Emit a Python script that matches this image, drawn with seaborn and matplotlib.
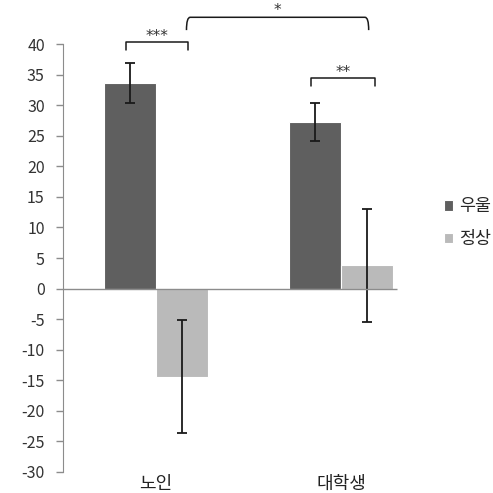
import matplotlib
matplotlib.use('Agg')
import matplotlib.pyplot as plt
from matplotlib.path import Path
from matplotlib.patches import PathPatch
import pandas as pd
import seaborn as sns

# data
groups = ['노인', '대학생']
series = ['우울', '정상']
depressed = [33.6, 27.3]
depressed_err = [3.25, 3.1]
normal = [-14.4, 3.8]
normal_err = [9.2, 9.2]
colors = ['#5f5f5f', '#bababa']
yticks = list(range(-30, 45, 5))

df = pd.DataFrame({
    'group': groups * 2,
    'kind': [series[0]] * 2 + [series[1]] * 2,
    'value': depressed + normal,
    'err': depressed_err + normal_err,
})

sns.set_style('white')
plt.rcParams['font.family'] = ['Noto Sans CJK KR', 'DejaVu Sans']
plt.rcParams['axes.unicode_minus'] = False

fig = plt.figure(figsize=(4.93, 4.93), dpi=100)
ax = fig.add_axes([0, 0, 1, 1])
sns.barplot(data=df, x='group', y='value', hue='kind', order=groups, hue_order=series,
            palette=colors, width=0.56, errorbar=None, edgecolor='white', linewidth=0.8, ax=ax)

# error bars centred on each bar
centers = {}
for patch, (_, row) in zip(ax.patches, df.iterrows()):
    cx = patch.get_x() + patch.get_width() / 2
    centers[(row['group'], row['kind'])] = cx
    ax.errorbar(cx, row['value'], yerr=row['err'], color='#1a1a1a', lw=1.3,
                capsize=3.5, capthick=1.3)

ax.set_xlim(-0.843, 1.822)
ax.set_ylim(-33.45, 47.23)
spine_x = -0.503
ax.hlines(0, spine_x, 1.303, color='#8c8c8c', lw=1)

for s in ['top', 'right']:
    ax.spines[s].set_visible(False)
ax.spines['bottom'].set_position(('data', -30))
ax.spines['bottom'].set_visible(False)
ax.spines['left'].set_position(('data', spine_x))
ax.spines['left'].set_bounds(-30, 40)
ax.spines['left'].set_color('#8c8c8c')
ax.set_yticks(yticks)
ax.tick_params(axis='y', left=True, length=5, width=1, color='#8c8c8c', pad=8,
               labelsize=11.5, labelcolor='#333333')
ax.tick_params(axis='x', length=0, pad=2, labelsize=13, labelcolor='#222222')
ax.set_xlabel('')
ax.set_ylabel('')


def bracket(x0, x1, y, drop, label, rounded=False):
    if rounded:
        r = 0.02
        verts = [(x0, y - drop), (x0, y), (x0 + r, y), (x1 - r, y), (x1, y), (x1, y - drop)]
        codes = [Path.MOVETO, Path.CURVE3, Path.CURVE3, Path.LINETO, Path.CURVE3, Path.CURVE3]
        ax.add_patch(PathPatch(Path(verts, codes), fill=False, color='#1a1a1a', lw=1.1))
    else:
        ax.plot([x0, x0, x1, x1], [y - drop, y, y, y - drop], color='#1a1a1a', lw=1.1)
    ax.text((x0 + x1) / 2, y + 0.3, label, ha='center', va='baseline', fontsize=11,
            color='#333333', family=['DejaVu Sans'])


bracket(centers[('노인', '우울')] - 0.02, centers[('노인', '정상')] + 0.035, 40.3, 1.3, '***')
bracket(centers[('노인', '정상')] + 0.025, centers[('대학생', '정상')] + 0.01, 44.4, 2.1, '*',
        rounded=True)
bracket(centers[('대학생', '우울')] - 0.02, centers[('대학생', '정상')] + 0.045, 34.4, 1.2, '**')

sns.move_legend(ax, loc='center left', bbox_to_anchor=(0.868, 0.548), frameon=False,
                title=None, fontsize=12.5, handlelength=0.55, handleheight=0.55,
                handletextpad=0.35, labelspacing=0.85)

plt.savefig('out.png', dpi=100)
plt.close()
